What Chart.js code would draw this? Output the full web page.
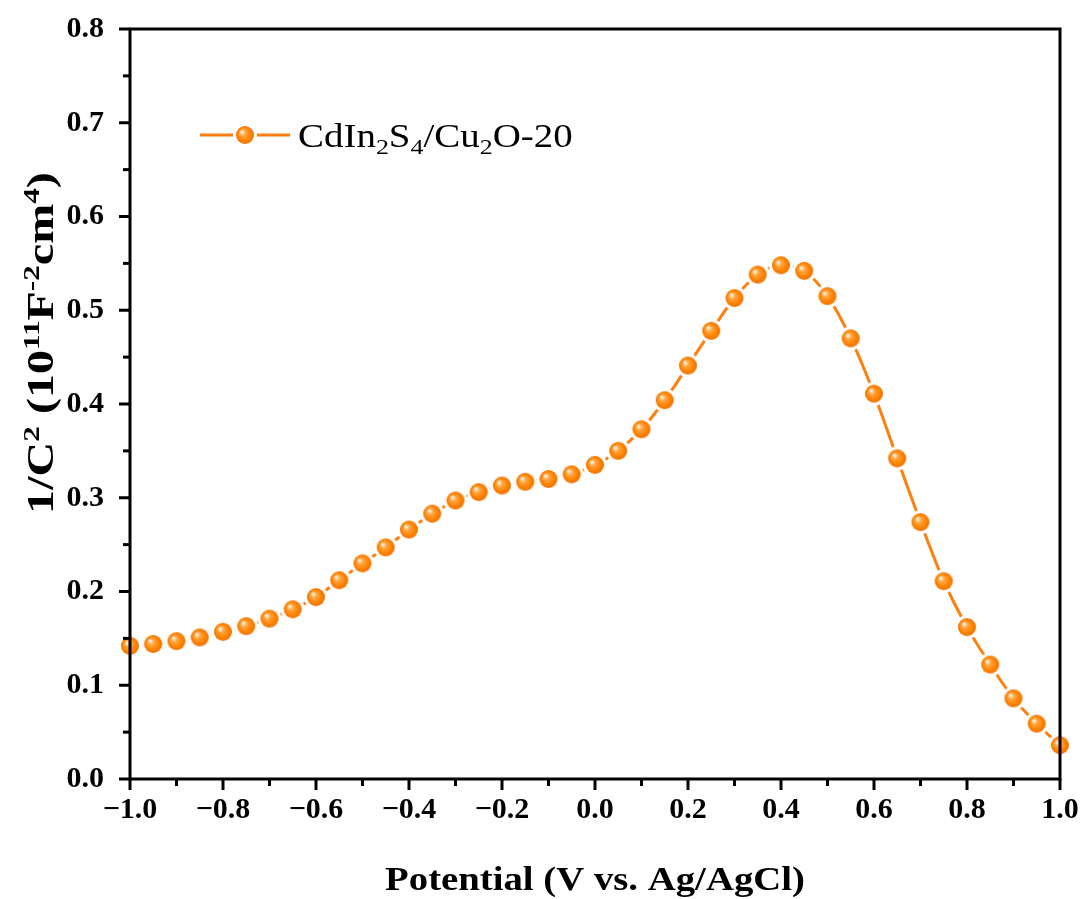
<!DOCTYPE html>
<html>
<head>
<meta charset="utf-8">
<script src="https://cdn.jsdelivr.net/npm/chart.js@4.4.1/dist/chart.umd.min.js"></script>
<style>
  html, body { margin: 0; padding: 0; background: #fff; }
  #wrap { width: 1086px; height: 899px; }
</style>
</head>
<body>
<div id="wrap"><canvas id="mottChart" width="1086" height="899"></canvas></div>
<script>
// potential (V vs. Ag/AgCl)
const potentials = [
  -1.0, -0.95, -0.9, -0.85, -0.8, -0.75, -0.7, -0.65, -0.6, -0.55,
  -0.5, -0.45, -0.4, -0.35, -0.3, -0.25, -0.2, -0.15, -0.1, -0.05,
  0.0, 0.05, 0.1, 0.15, 0.2, 0.25, 0.3, 0.35, 0.4, 0.45,
  0.5, 0.55, 0.6, 0.65, 0.7, 0.75, 0.8, 0.85, 0.9, 0.95, 1.0
];
// 1/C^2 (10^11 F^-2 cm^4)
const invCapSq = [
  0.142, 0.144, 0.147, 0.151, 0.157, 0.163, 0.171, 0.181, 0.194, 0.212,
  0.230, 0.247, 0.266, 0.283, 0.297, 0.306, 0.313, 0.317, 0.320, 0.325,
  0.335, 0.350, 0.373, 0.404, 0.441, 0.478, 0.513, 0.538, 0.548, 0.542,
  0.515, 0.470, 0.411, 0.342, 0.274, 0.211, 0.162, 0.122, 0.086, 0.059, 0.036
];
const xTicks = [-1.0, -0.8, -0.6, -0.4, -0.2, 0.0, 0.2, 0.4, 0.6, 0.8, 1.0];
const yTicks = [0.0, 0.1, 0.2, 0.3, 0.4, 0.5, 0.6, 0.7, 0.8];
const seriesName = [["CdIn", 0], ["2", 1], ["S", 0], ["4", 1], ["/Cu", 0], ["2", 1], ["O-20", 0]];

const ORANGE = "#ff7f0e";
const SERIF = "'Liberation Serif', 'Times New Roman', serif";

// shaded ball marker with a white halo, like the original
function makeBall(r) {
  const pad = 3;
  const size = (r + pad) * 2;
  const c = document.createElement("canvas");
  c.width = size; c.height = size;
  const g = c.getContext("2d");
  const cx = size / 2, cy = size / 2;
  g.fillStyle = "#fff";
  g.beginPath(); g.arc(cx, cy, r + pad, 0, Math.PI * 2); g.fill();
  const grad = g.createRadialGradient(cx - r * 0.35, cy - r * 0.35, 0.5, cx, cy, r);
  grad.addColorStop(0, "#fff6ea");
  grad.addColorStop(0.3, "#ffa640");
  grad.addColorStop(0.75, "#ff8000");
  grad.addColorStop(1, "#f07400");
  g.fillStyle = grad;
  g.beginPath(); g.arc(cx, cy, r, 0, Math.PI * 2); g.fill();
  return c;
}
const ball = makeBall(9);

// text runs with sub (1) / superscripts (2)
function richText(ctx, runs, x, y, size, weight, align, stretch) {
  const big = weight + " " + size + "px " + SERIF;
  const small = weight + " " + Math.round(size * 0.66) + "px " + SERIF;
  let total = 0;
  runs.forEach(([t, k]) => { ctx.font = k ? small : big; total += ctx.measureText(t).width; });
  total *= stretch;
  ctx.save();
  ctx.translate(align === "center" ? x - total / 2 : x, y);
  ctx.scale(stretch, 1);
  ctx.textAlign = "left";
  ctx.textBaseline = "alphabetic";
  let cx = 0;
  runs.forEach(([t, k]) => {
    ctx.font = k ? small : big;
    let dy = 0;
    if (k === 1) dy = size * 0.22;
    if (k === 2) dy = -size * 0.38;
    ctx.fillText(t, cx, dy);
    cx += ctx.measureText(t).width;
  });
  ctx.restore();
}

const framePlugin = {
  id: "frame",
  afterDraw(chart) {
    const { ctx, chartArea: a, scales } = chart;
    const xs = scales.x, ys = scales.y;
    ctx.save();
    ctx.strokeStyle = "#000";
    ctx.lineWidth = 3;
    ctx.strokeRect(a.left, a.top, a.right - a.left, a.bottom - a.top);
    // major + minor ticks, outward on bottom and left
    for (let i = 0; i <= 20; i++) {
      const px = xs.getPixelForValue(-1 + i * 0.1);
      const len = i % 2 === 0 ? 11 : 7;
      ctx.beginPath(); ctx.moveTo(px, a.bottom); ctx.lineTo(px, a.bottom + len); ctx.stroke();
    }
    for (let i = 0; i <= 16; i++) {
      const py = ys.getPixelForValue(i * 0.05);
      const len = i % 2 === 0 ? 11 : 7;
      ctx.beginPath(); ctx.moveTo(a.left, py); ctx.lineTo(a.left - len, py); ctx.stroke();
    }
    ctx.fillStyle = "#000";
    // x title
    richText(ctx, [["Potential (V vs. Ag/AgCl)", 0]], (a.left + a.right) / 2, 890, 34, "bold", "center", 1.14);
    // y title, rotated
    ctx.save();
    ctx.translate(53, 343);
    ctx.rotate(-Math.PI / 2);
    richText(ctx, [["1/C", 0], ["2", 2], [" (10", 0], ["11", 2], ["F", 0], ["-2", 2], ["cm", 0], ["4", 2], [")", 0]],
      0, 0, 37, "bold", "center", 1.3);
    ctx.restore();
    // legend
    ctx.strokeStyle = ORANGE;
    ctx.lineWidth = 3;
    ctx.beginPath(); ctx.moveTo(200, 135); ctx.lineTo(290, 135); ctx.stroke();
    ctx.drawImage(ball, 245 - ball.width / 2, 135 - ball.height / 2);
    ctx.fillStyle = "#000";
    richText(ctx, seriesName, 298, 147, 33, "normal", "left", 1.18);
    ctx.restore();
  }
};

const ctx = document.getElementById("mottChart").getContext("2d");
const mottChart = new Chart(ctx, {
  type: "line",
  data: {
    datasets: [
      {
        label: "CdIn2S4/Cu2O-20",
        data: potentials.map((p, i) => ({ x: p, y: invCapSq[i] })),
        borderColor: ORANGE,
        borderWidth: 3,
        pointStyle: ball,
        pointRadius: 9,
        cubicInterpolationMode: "monotone",
        clip: false,
      },
    ],
  },
  options: {
    responsive: false,
    animation: false,
    layout: { autoPadding: false, padding: { top: 29, right: 26, left: 0, bottom: 0 } },
    plugins: {
      legend: { display: false },
      tooltip: { enabled: false },
    },
    scales: {
      x: {
        type: "linear",
        min: -1,
        max: 1,
        afterBuildTicks(scale) { scale.ticks = xTicks.map((v) => ({ value: v })); },
        afterFit(scale) {
          scale.height = 120;
          scale.paddingLeft = 0;
          scale.paddingRight = 0;
        },
        grid: { display: false, drawTicks: false },
        border: { display: false },
        ticks: {
          padding: 13,
          color: "#000",
          font: { family: SERIF, size: 30, weight: "bold" },
          maxRotation: 0,
          callback: (v) => (v < 0 ? "\u2212" : "") + Math.abs(v).toFixed(1),
        },
      },
      y: {
        min: 0,
        max: 0.8,
        afterBuildTicks(scale) { scale.ticks = yTicks.map((v) => ({ value: v })); },
        afterFit(scale) {
          scale.width = 130;
          scale.paddingTop = 0;
          scale.paddingBottom = 0;
        },
        grid: { display: false, drawTicks: false },
        border: { display: false },
        ticks: {
          padding: 26,
          color: "#000",
          font: { family: SERIF, size: 30, weight: "bold" },
          callback: (v) => v.toFixed(1),
        },
      },
    },
  },
  plugins: [framePlugin],
});
</script>
</body>
</html>
